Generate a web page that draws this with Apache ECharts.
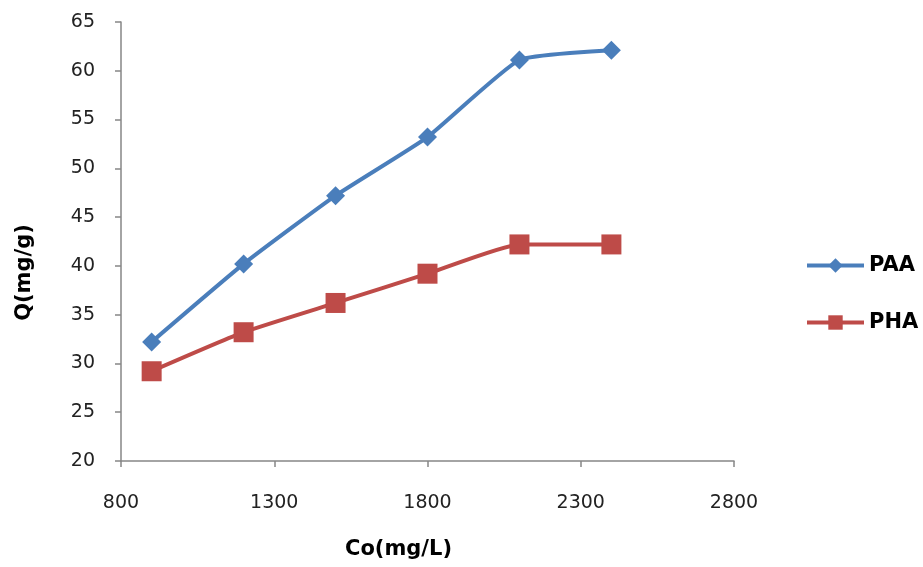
<!DOCTYPE html>
<html>
<head>
<meta charset="utf-8">
<script src="https://cdn.jsdelivr.net/npm/echarts@6/dist/echarts.min.js"></script>
<style>
  html, body { margin: 0; padding: 0; background: #fff; }
  #chart { width: 923px; height: 567px; }
</style>
</head>
<body>
<div id="chart"></div>
<script>
// Initial concentration Co (mg/L)
const concentrations = [900, 1200, 1500, 1800, 2100, 2400];
// Adsorption capacity Q (mg/g)
const paaValues = [32.2, 40.2, 47.2, 53.2, 61.1, 62.1];
const phaValues = [29.2, 33.2, 36.2, 39.2, 42.2, 42.2];

const toPairs = (xs, ys) => xs.map((x, i) => [x, ys[i]]);

const axisGray = '#868686';
const labelFont = { color: '#222', fontFamily: 'DejaVu Sans', fontSize: 19 };
const titleFont = { fontFamily: 'DejaVu Sans', fontWeight: 'bold', fontSize: 21, color: '#000' };

const chart = echarts.init(document.getElementById('chart'), null, { renderer: 'canvas' });
chart.setOption({
  animation: false,
  backgroundColor: '#ffffff',
  grid: { left: 121, right: 189, top: 22, bottom: 106 },
  legend: {
    orient: 'vertical',
    left: 800,
    top: 250,
    itemWidth: 57,
    itemHeight: 18,
    itemGap: 36,
    lineStyle: { width: 4 },
    textStyle: { fontFamily: 'DejaVu Sans', fontWeight: 'bold', fontSize: 21, color: '#000' },
    data: ['PAA', 'PHA']
  },
  xAxis: {
    type: 'value',
    min: 800,
    max: 2800,
    interval: 500,
    name: 'Co(mg/L)',
    nameLocation: 'middle',
    nameGap: 78,
    nameTextStyle: Object.assign({ padding: [0, 58, 0, 0] }, titleFont),
    axisLine: { show: true, lineStyle: { color: axisGray, width: 1.5 } },
    axisTick: { show: true, length: 6, lineStyle: { color: axisGray, width: 1.5 } },
    axisLabel: Object.assign({ margin: 33, formatter: v => String(v) }, labelFont),
    splitLine: { show: false }
  },
  yAxis: {
    type: 'value',
    min: 20,
    max: 65,
    interval: 5,
    name: 'Q(mg/g)',
    nameLocation: 'middle',
    nameGap: 86,
    nameRotate: 90,
    nameTextStyle: Object.assign({ padding: [0, 62, 0, 0] }, titleFont),
    axisLine: { show: true, lineStyle: { color: axisGray, width: 1.5 } },
    axisTick: { show: true, length: 6, lineStyle: { color: axisGray, width: 1.5 } },
    axisLabel: Object.assign({ margin: 26 }, labelFont),
    splitLine: { show: false }
  },
  series: [
    {
      name: 'PAA',
      type: 'line',
      data: toPairs(concentrations, paaValues),
      smooth: 0.15,
      symbol: 'diamond',
      symbolSize: 19,
      lineStyle: { color: '#4A7EBB', width: 4 },
      itemStyle: { color: '#4A7EBB' }
    },
    {
      name: 'PHA',
      type: 'line',
      data: toPairs(concentrations, phaValues),
      smooth: 0.15,
      symbol: 'rect',
      symbolSize: 20,
      lineStyle: { color: '#BE4B48', width: 4 },
      itemStyle: { color: '#BE4B48' }
    }
  ]
});
</script>
</body>
</html>
